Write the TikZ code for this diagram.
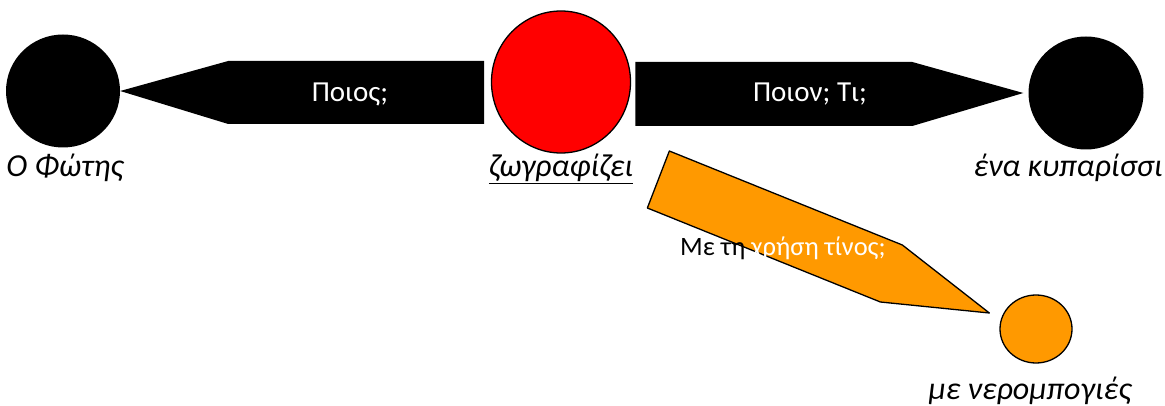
\documentclass[tikz,border=0pt]{standalone}
\usepackage{fontspec}
\setmainfont{Carlito}
\usetikzlibrary{positioning,shapes.geometric,calc}
\definecolor{brush}{RGB}{255,0,0}
\definecolor{paint}{RGB}{255,153,0}

\begin{document}
\begin{tikzpicture}[x=1pt,y=-1pt,
    role/.style={ellipse,inner sep=0pt},
    word/.style={font=\fontsize{32}{38}\selectfont\itshape,inner sep=0pt,anchor=base},
    ask/.style={font=\fontsize{29}{34}\selectfont,text=white,inner sep=0pt,anchor=base}]
  \useasboundingbox (0,0) rectangle (1165,406);
  % who, what, with what
  \node[role,fill=black,minimum width=114pt,minimum height=113pt] (fotis) at (63,91) {};
  \node[role,fill=brush,draw=black,line width=1.3pt,minimum width=139pt,minimum height=142pt] (verb) at (561,82) {};
  \node[role,fill=black,minimum width=115pt,minimum height=113pt] (cypress) at (1086,93) {};
  \node[role,fill=paint,draw=black,line width=1.3pt,minimum width=72pt,minimum height=68pt] (paints) at (1036,329) {};

  \node[word] (fotisl) at (65,177) {Ο Φώτης};
  \node[word] (verbl) at (561,177) {\underline{ζωγραφίζει}};
  \node[word] (cypressl) at (1068,177) {ένα κυπαρίσσι};
  \node[word] (paintsl) at (1030,399) {με νερομπογιές};

  % question arrows
  \fill (fotis.east) -- ++(108,-30) -- ++(256,0) -- ++(0,63) -- ++(-256,0) -- cycle;
  \fill ([xshift=-5pt]cypress.west) -- ++(-111,-31) -- ++(-277,0) -- ++(0,64) -- ++(277,0) -- cycle;
  \filldraw[fill=paint,line width=1.3pt,line join=round] ($(paints.west)+(-10,-16)$)
    -- ++(-87,-68) -- ++(-233,-94) -- ++(-22,57) -- ++(233,94) -- cycle;

  \node[ask] (who) at (350,102) {Ποιος;};
  \node[ask] (what) at (810,102) {Ποιον; Τι;};
  \node[ask,anchor=base west,font=\fontsize{26.5}{32}\selectfont] (how) at (680,256) {\textcolor{black}{Με τη} χρήση τίνος;};
\end{tikzpicture}
\end{document}
